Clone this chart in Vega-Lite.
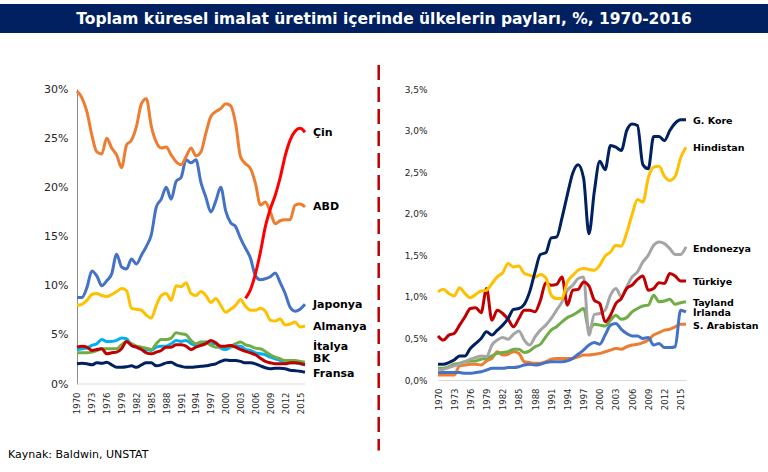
{
  "$schema": "https://vega.github.io/schema/vega-lite/v6.json",
  "background": "white",
  "padding": {"left": 0, "top": 4, "right": 0, "bottom": 0},
  "config": {
    "view": {"stroke": null},
    "font": "DejaVu Sans",
    "axis": {"grid": false, "ticks": false, "title": null, "labelColor": "#262626", "labelFont": "DejaVu Sans", "labelOverlap": false, "tickCount": 30},
    "line": {"strokeWidth": 3, "interpolate": "monotone"},
    "text": {"font": "DejaVu Sans"}
  },
  "title": {"text": "Kaynak: Baldwin, UNSTAT", "orient": "bottom", "anchor": "start", "dx": 8, "offset": -3, "fontSize": 11, "fontWeight": "normal", "color": "#000000", "font": "DejaVu Sans"},
  "datasets": {
    "sol": [
      {"yil": 1970, "ABD": 29.8, "Japonya": 8.8, "Almanya": 8.0, "Cin": null, "Italya": 3.17, "BK": 3.75, "Kanada": 3.51, "Fransa": 2.05},
      {"yil": 1971, "ABD": 29.1, "Japonya": 8.8, "Almanya": 8.1, "Cin": null, "Italya": 3.17, "BK": 3.85, "Kanada": 3.58, "Fransa": 2.1},
      {"yil": 1972, "ABD": 27.7, "Japonya": 9.8, "Almanya": 8.5, "Cin": null, "Italya": 3.17, "BK": 3.75, "Kanada": 3.65, "Fransa": 2.05},
      {"yil": 1973, "ABD": 25.3, "Japonya": 11.5, "Almanya": 9.1, "Cin": null, "Italya": 3.24, "BK": 3.41, "Kanada": 3.92, "Fransa": 1.95},
      {"yil": 1974, "ABD": 23.6, "Japonya": 11.0, "Almanya": 9.2, "Cin": null, "Italya": 3.41, "BK": 3.51, "Kanada": 4.1, "Fransa": 2.15},
      {"yil": 1975, "ABD": 23.4, "Japonya": 10.0, "Almanya": 9.0, "Cin": null, "Italya": 3.58, "BK": 3.58, "Kanada": 4.53, "Fransa": 2.1},
      {"yil": 1976, "ABD": 25.0, "Japonya": 10.5, "Almanya": 8.9, "Cin": null, "Italya": 3.58, "BK": 3.07, "Kanada": 4.33, "Fransa": 2.2},
      {"yil": 1977, "ABD": 24.0, "Japonya": 11.2, "Almanya": 9.1, "Cin": null, "Italya": 3.58, "BK": 3.17, "Kanada": 4.33, "Fransa": 1.95},
      {"yil": 1978, "ABD": 23.3, "Japonya": 13.2, "Almanya": 9.4, "Cin": null, "Italya": 3.58, "BK": 3.24, "Kanada": 4.43, "Fransa": 1.7},
      {"yil": 1979, "ABD": 22.0, "Japonya": 11.9, "Almanya": 9.7, "Cin": null, "Italya": 3.99, "BK": 3.58, "Kanada": 4.67, "Fransa": 1.7},
      {"yil": 1980, "ABD": 24.3, "Japonya": 11.7, "Almanya": 9.5, "Cin": null, "Italya": 4.33, "BK": 4.33, "Kanada": 4.6, "Fransa": 1.75},
      {"yil": 1981, "ABD": 24.8, "Japonya": 12.7, "Almanya": 7.7, "Cin": null, "Italya": 4.1, "BK": 3.92, "Kanada": 3.92, "Fransa": 1.85},
      {"yil": 1982, "ABD": 26.2, "Japonya": 12.2, "Almanya": 7.6, "Cin": null, "Italya": 3.85, "BK": 3.75, "Kanada": 3.75, "Fransa": 1.7},
      {"yil": 1983, "ABD": 28.5, "Japonya": 13.1, "Almanya": 7.5, "Cin": null, "Italya": 3.75, "BK": 3.51, "Kanada": 3.58, "Fransa": 1.95},
      {"yil": 1984, "ABD": 29.0, "Japonya": 14.0, "Almanya": 7.0, "Cin": null, "Italya": 3.65, "BK": 3.17, "Kanada": 3.51, "Fransa": 2.15},
      {"yil": 1985, "ABD": 26.2, "Japonya": 15.2, "Almanya": 6.7, "Cin": null, "Italya": 3.51, "BK": 3.07, "Kanada": 3.41, "Fransa": 2.15},
      {"yil": 1986, "ABD": 24.6, "Japonya": 18.0, "Almanya": 8.0, "Cin": null, "Italya": 4.1, "BK": 3.24, "Kanada": 3.75, "Fransa": 1.85},
      {"yil": 1987, "ABD": 24.0, "Japonya": 18.8, "Almanya": 9.0, "Cin": null, "Italya": 4.53, "BK": 3.41, "Kanada": 3.85, "Fransa": 1.95},
      {"yil": 1988, "ABD": 24.1, "Japonya": 20.0, "Almanya": 9.2, "Cin": null, "Italya": 4.53, "BK": 3.75, "Kanada": 3.85, "Fransa": 2.15},
      {"yil": 1989, "ABD": 23.3, "Japonya": 18.8, "Almanya": 8.5, "Cin": null, "Italya": 4.67, "BK": 3.75, "Kanada": 4.1, "Fransa": 2.2},
      {"yil": 1990, "ABD": 22.6, "Japonya": 20.6, "Almanya": 10.0, "Cin": null, "Italya": 5.21, "BK": 3.99, "Kanada": 4.43, "Fransa": 1.95},
      {"yil": 1991, "ABD": 22.3, "Japonya": 21.0, "Almanya": 9.9, "Cin": null, "Italya": 5.11, "BK": 3.99, "Kanada": 4.33, "Fransa": 1.8},
      {"yil": 1992, "ABD": 23.1, "Japonya": 22.8, "Almanya": 10.3, "Cin": null, "Italya": 5.01, "BK": 3.85, "Kanada": 4.43, "Fransa": 1.7},
      {"yil": 1993, "ABD": 24.0, "Japonya": 22.5, "Almanya": 9.2, "Cin": null, "Italya": 4.43, "BK": 3.51, "Kanada": 4.1, "Fransa": 1.71},
      {"yil": 1994, "ABD": 23.2, "Japonya": 22.8, "Almanya": 9.0, "Cin": null, "Italya": 4.1, "BK": 3.75, "Kanada": 3.92, "Fransa": 1.75},
      {"yil": 1995, "ABD": 23.6, "Japonya": 20.5, "Almanya": 9.4, "Cin": null, "Italya": 4.26, "BK": 3.92, "Kanada": 4.1, "Fransa": 1.8},
      {"yil": 1996, "ABD": 25.5, "Japonya": 19.0, "Almanya": 9.0, "Cin": null, "Italya": 4.26, "BK": 4.1, "Kanada": 4.26, "Fransa": 1.85},
      {"yil": 1997, "ABD": 27.2, "Japonya": 17.5, "Almanya": 8.3, "Cin": null, "Italya": 3.92, "BK": 4.43, "Kanada": 4.1, "Fransa": 1.95},
      {"yil": 1998, "ABD": 27.7, "Japonya": 18.6, "Almanya": 8.7, "Cin": null, "Italya": 3.75, "BK": 4.18, "Kanada": 4.1, "Fransa": 2.05},
      {"yil": 1999, "ABD": 28.0, "Japonya": 20.0, "Almanya": 8.0, "Cin": null, "Italya": 3.75, "BK": 3.85, "Kanada": 3.65, "Fransa": 2.3},
      {"yil": 2000, "ABD": 28.5, "Japonya": 17.6, "Almanya": 7.3, "Cin": null, "Italya": 3.85, "BK": 3.85, "Kanada": 3.51, "Fransa": 2.45},
      {"yil": 2001, "ABD": 28.3, "Japonya": 16.4, "Almanya": 7.6, "Cin": null, "Italya": 3.85, "BK": 3.92, "Kanada": 3.75, "Fransa": 2.4},
      {"yil": 2002, "ABD": 26.5, "Japonya": 16.0, "Almanya": 8.0, "Cin": null, "Italya": 4.1, "BK": 3.75, "Kanada": 3.85, "Fransa": 2.4},
      {"yil": 2003, "ABD": 23.1, "Japonya": 14.8, "Almanya": 8.6, "Cin": null, "Italya": 4.26, "BK": 3.51, "Kanada": 3.85, "Fransa": 2.3},
      {"yil": 2004, "ABD": 22.4, "Japonya": 13.8, "Almanya": 7.9, "Cin": 8.7, "Italya": 3.99, "BK": 3.31, "Kanada": 3.51, "Fransa": 2.15},
      {"yil": 2005, "ABD": 21.9, "Japonya": 12.8, "Almanya": 7.5, "Cin": 9.6, "Italya": 3.85, "BK": 3.17, "Kanada": 3.41, "Fransa": 2.15},
      {"yil": 2006, "ABD": 20.4, "Japonya": 11.0, "Almanya": 7.5, "Cin": 11.2, "Italya": 3.65, "BK": 2.97, "Kanada": 3.17, "Fransa": 2.05},
      {"yil": 2007, "ABD": 18.2, "Japonya": 10.6, "Almanya": 7.7, "Cin": 13.4, "Italya": 3.58, "BK": 2.63, "Kanada": 3.07, "Fransa": 1.85},
      {"yil": 2008, "ABD": 18.5, "Japonya": 10.7, "Almanya": 7.4, "Cin": 16.0, "Italya": 3.31, "BK": 2.29, "Kanada": 2.97, "Fransa": 1.65},
      {"yil": 2009, "ABD": 17.5, "Japonya": 10.9, "Almanya": 6.5, "Cin": 17.8, "Italya": 2.97, "BK": 2.16, "Kanada": 2.73, "Fransa": 1.55},
      {"yil": 2010, "ABD": 16.3, "Japonya": 11.3, "Almanya": 6.4, "Cin": 19.2, "Italya": 2.73, "BK": 2.05, "Kanada": 2.56, "Fransa": 1.6},
      {"yil": 2011, "ABD": 16.6, "Japonya": 10.3, "Almanya": 6.6, "Cin": 21.0, "Italya": 2.56, "BK": 2.05, "Kanada": 2.39, "Fransa": 1.6},
      {"yil": 2012, "ABD": 16.7, "Japonya": 9.2, "Almanya": 6.0, "Cin": 23.2, "Italya": 2.39, "BK": 2.05, "Kanada": 2.16, "Fransa": 1.55},
      {"yil": 2013, "ABD": 16.7, "Japonya": 7.8, "Almanya": 6.1, "Cin": 24.8, "Italya": 2.39, "BK": 2.16, "Kanada": 2.16, "Fransa": 1.4},
      {"yil": 2014, "ABD": 18.2, "Japonya": 7.4, "Almanya": 6.3, "Cin": 25.7, "Italya": 2.39, "BK": 2.16, "Kanada": 2.16, "Fransa": 1.35},
      {"yil": 2015, "ABD": 18.3, "Japonya": 7.6, "Almanya": 5.8, "Cin": 26.0, "Italya": 2.29, "BK": 2.1, "Kanada": 2.05, "Fransa": 1.3},
      {"yil": 2016, "ABD": 18.0, "Japonya": 8.1, "Almanya": 5.9, "Cin": 25.6, "Italya": 2.22, "BK": 1.95, "Kanada": 1.95, "Fransa": 1.2}
    ],
    "sol_etiket": [
      {"etiket": "Çin", "yil": 2016, "pay": 25.5},
      {"etiket": "ABD", "yil": 2016, "pay": 18.0},
      {"etiket": "Japonya", "yil": 2016, "pay": 8.0},
      {"etiket": "Almanya", "yil": 2016, "pay": 5.8},
      {"etiket": "İtalya", "yil": 2016, "pay": 3.8},
      {"etiket": "BK", "yil": 2016, "pay": 2.5},
      {"etiket": "Fransa", "yil": 2016, "pay": 1.0}
    ],
    "sag": [
      {"yil": 1970, "SArabistan": 0.06, "Irlanda": 0.09, "Tayland": 0.14, "Endonezya": 0.12, "Turkiye": 0.53, "Hindistan": 1.06, "GKore": 0.19},
      {"yil": 1971, "SArabistan": 0.06, "Irlanda": 0.09, "Tayland": 0.14, "Endonezya": 0.13, "Turkiye": 0.48, "Hindistan": 1.09, "GKore": 0.19},
      {"yil": 1972, "SArabistan": 0.06, "Irlanda": 0.09, "Tayland": 0.16, "Endonezya": 0.15, "Turkiye": 0.54, "Hindistan": 1.04, "GKore": 0.21},
      {"yil": 1973, "SArabistan": 0.06, "Irlanda": 0.09, "Tayland": 0.19, "Endonezya": 0.17, "Turkiye": 0.56, "Hindistan": 1.01, "GKore": 0.24},
      {"yil": 1974, "SArabistan": 0.17, "Irlanda": 0.09, "Tayland": 0.2, "Endonezya": 0.19, "Turkiye": 0.66, "Hindistan": 1.11, "GKore": 0.29},
      {"yil": 1975, "SArabistan": 0.18, "Irlanda": 0.08, "Tayland": 0.22, "Endonezya": 0.22, "Turkiye": 0.76, "Hindistan": 1.04, "GKore": 0.29},
      {"yil": 1976, "SArabistan": 0.19, "Irlanda": 0.08, "Tayland": 0.23, "Endonezya": 0.25, "Turkiye": 0.86, "Hindistan": 0.99, "GKore": 0.38},
      {"yil": 1977, "SArabistan": 0.19, "Irlanda": 0.09, "Tayland": 0.23, "Endonezya": 0.27, "Turkiye": 0.87, "Hindistan": 1.03, "GKore": 0.44},
      {"yil": 1978, "SArabistan": 0.18, "Irlanda": 0.1, "Tayland": 0.25, "Endonezya": 0.29, "Turkiye": 0.81, "Hindistan": 1.07, "GKore": 0.5},
      {"yil": 1979, "SArabistan": 0.23, "Irlanda": 0.12, "Tayland": 0.26, "Endonezya": 0.28, "Turkiye": 1.1, "Hindistan": 1.08, "GKore": 0.58},
      {"yil": 1980, "SArabistan": 0.26, "Irlanda": 0.14, "Tayland": 0.29, "Endonezya": 0.42, "Turkiye": 0.72, "Hindistan": 1.16, "GKore": 0.54},
      {"yil": 1981, "SArabistan": 0.34, "Irlanda": 0.14, "Tayland": 0.32, "Endonezya": 0.48, "Turkiye": 0.84, "Hindistan": 1.24, "GKore": 0.6},
      {"yil": 1982, "SArabistan": 0.3, "Irlanda": 0.14, "Tayland": 0.33, "Endonezya": 0.51, "Turkiye": 0.8, "Hindistan": 1.29, "GKore": 0.66},
      {"yil": 1983, "SArabistan": 0.31, "Irlanda": 0.15, "Tayland": 0.34, "Endonezya": 0.49, "Turkiye": 0.73, "Hindistan": 1.4, "GKore": 0.74},
      {"yil": 1984, "SArabistan": 0.34, "Irlanda": 0.15, "Tayland": 0.37, "Endonezya": 0.55, "Turkiye": 0.64, "Hindistan": 1.36, "GKore": 0.85},
      {"yil": 1985, "SArabistan": 0.32, "Irlanda": 0.16, "Tayland": 0.37, "Endonezya": 0.59, "Turkiye": 0.74, "Hindistan": 1.37, "GKore": 0.86},
      {"yil": 1986, "SArabistan": 0.22, "Irlanda": 0.18, "Tayland": 0.33, "Endonezya": 0.48, "Turkiye": 0.84, "Hindistan": 1.28, "GKore": 0.91},
      {"yil": 1987, "SArabistan": 0.21, "Irlanda": 0.19, "Tayland": 0.35, "Endonezya": 0.42, "Turkiye": 0.84, "Hindistan": 1.26, "GKore": 1.06},
      {"yil": 1988, "SArabistan": 0.2, "Irlanda": 0.18, "Tayland": 0.4, "Endonezya": 0.52, "Turkiye": 0.82, "Hindistan": 1.24, "GKore": 1.3},
      {"yil": 1989, "SArabistan": 0.2, "Irlanda": 0.19, "Tayland": 0.43, "Endonezya": 0.6, "Turkiye": 0.96, "Hindistan": 1.27, "GKore": 1.51},
      {"yil": 1990, "SArabistan": 0.22, "Irlanda": 0.21, "Tayland": 0.52, "Endonezya": 0.66, "Turkiye": 1.17, "Hindistan": 1.23, "GKore": 1.53},
      {"yil": 1991, "SArabistan": 0.25, "Irlanda": 0.22, "Tayland": 0.6, "Endonezya": 0.74, "Turkiye": 1.14, "Hindistan": 1.02, "GKore": 1.71},
      {"yil": 1992, "SArabistan": 0.26, "Irlanda": 0.22, "Tayland": 0.64, "Endonezya": 0.84, "Turkiye": 1.15, "Hindistan": 0.98, "GKore": 1.72},
      {"yil": 1993, "SArabistan": 0.26, "Irlanda": 0.22, "Tayland": 0.7, "Endonezya": 0.94, "Turkiye": 1.24, "Hindistan": 0.98, "GKore": 1.95},
      {"yil": 1994, "SArabistan": 0.26, "Irlanda": 0.23, "Tayland": 0.75, "Endonezya": 1.08, "Turkiye": 0.9, "Hindistan": 1.18, "GKore": 2.23},
      {"yil": 1995, "SArabistan": 0.26, "Irlanda": 0.26, "Tayland": 0.78, "Endonezya": 1.14, "Turkiye": 1.08, "Hindistan": 1.26, "GKore": 2.49},
      {"yil": 1996, "SArabistan": 0.28, "Irlanda": 0.31, "Tayland": 0.82, "Endonezya": 1.22, "Turkiye": 1.09, "Hindistan": 1.32, "GKore": 2.59},
      {"yil": 1997, "SArabistan": 0.3, "Irlanda": 0.36, "Tayland": 0.86, "Endonezya": 1.24, "Turkiye": 1.18, "Hindistan": 1.34, "GKore": 2.43},
      {"yil": 1998, "SArabistan": 0.3, "Irlanda": 0.42, "Tayland": 0.61, "Endonezya": 0.54, "Turkiye": 1.13, "Hindistan": 1.33, "GKore": 1.76},
      {"yil": 1999, "SArabistan": 0.31, "Irlanda": 0.45, "Tayland": 0.67, "Endonezya": 0.79, "Turkiye": 0.96, "Hindistan": 1.32, "GKore": 2.27},
      {"yil": 2000, "SArabistan": 0.32, "Irlanda": 0.43, "Tayland": 0.66, "Endonezya": 0.8, "Turkiye": 0.92, "Hindistan": 1.38, "GKore": 2.63},
      {"yil": 2001, "SArabistan": 0.34, "Irlanda": 0.54, "Tayland": 0.65, "Endonezya": 0.84, "Turkiye": 0.7, "Hindistan": 1.49, "GKore": 2.53},
      {"yil": 2002, "SArabistan": 0.36, "Irlanda": 0.66, "Tayland": 0.72, "Endonezya": 1.02, "Turkiye": 0.78, "Hindistan": 1.54, "GKore": 2.82},
      {"yil": 2003, "SArabistan": 0.38, "Irlanda": 0.68, "Tayland": 0.78, "Endonezya": 1.1, "Turkiye": 0.92, "Hindistan": 1.62, "GKore": 2.8},
      {"yil": 2004, "SArabistan": 0.37, "Irlanda": 0.61, "Tayland": 0.73, "Endonezya": 1.0, "Turkiye": 0.98, "Hindistan": 1.61, "GKore": 2.76},
      {"yil": 2005, "SArabistan": 0.4, "Irlanda": 0.56, "Tayland": 0.75, "Endonezya": 1.12, "Turkiye": 1.1, "Hindistan": 1.77, "GKore": 3.0},
      {"yil": 2006, "SArabistan": 0.42, "Irlanda": 0.53, "Tayland": 0.82, "Endonezya": 1.24, "Turkiye": 1.14, "Hindistan": 1.99, "GKore": 3.08},
      {"yil": 2007, "SArabistan": 0.43, "Irlanda": 0.53, "Tayland": 0.86, "Endonezya": 1.3, "Turkiye": 1.21, "Hindistan": 2.17, "GKore": 3.06},
      {"yil": 2008, "SArabistan": 0.45, "Irlanda": 0.5, "Tayland": 0.89, "Endonezya": 1.42, "Turkiye": 1.25, "Hindistan": 2.14, "GKore": 2.59},
      {"yil": 2009, "SArabistan": 0.48, "Irlanda": 0.51, "Tayland": 0.9, "Endonezya": 1.5, "Turkiye": 1.08, "Hindistan": 2.43, "GKore": 2.54},
      {"yil": 2010, "SArabistan": 0.54, "Irlanda": 0.42, "Tayland": 1.02, "Endonezya": 1.62, "Turkiye": 1.1, "Hindistan": 2.56, "GKore": 2.93},
      {"yil": 2011, "SArabistan": 0.57, "Irlanda": 0.44, "Tayland": 0.94, "Endonezya": 1.66, "Turkiye": 1.17, "Hindistan": 2.57, "GKore": 2.93},
      {"yil": 2012, "SArabistan": 0.6, "Irlanda": 0.39, "Tayland": 0.95, "Endonezya": 1.64, "Turkiye": 1.16, "Hindistan": 2.45, "GKore": 2.88},
      {"yil": 2013, "SArabistan": 0.61, "Irlanda": 0.39, "Tayland": 0.97, "Endonezya": 1.58, "Turkiye": 1.28, "Hindistan": 2.4, "GKore": 3.0},
      {"yil": 2014, "SArabistan": 0.64, "Irlanda": 0.4, "Tayland": 0.91, "Endonezya": 1.51, "Turkiye": 1.25, "Hindistan": 2.45, "GKore": 3.09},
      {"yil": 2015, "SArabistan": 0.67, "Irlanda": 0.84, "Tayland": 0.93, "Endonezya": 1.51, "Turkiye": 1.19, "Hindistan": 2.67, "GKore": 3.13},
      {"yil": 2016, "SArabistan": 0.67, "Irlanda": 0.82, "Tayland": 0.94, "Endonezya": 1.6, "Turkiye": 1.19, "Hindistan": 2.8, "GKore": 3.13}
    ],
    "sag_etiket": [
      {"etiket": "G. Kore", "yil": 2016, "pay": 3.115},
      {"etiket": "Hindistan", "yil": 2016, "pay": 2.79},
      {"etiket": "Endonezya", "yil": 2016, "pay": 1.574},
      {"etiket": "Türkiye", "yil": 2016, "pay": 1.18},
      {"etiket": "Tayland", "yil": 2016, "pay": 0.929},
      {"etiket": "İrlanda", "yil": 2016, "pay": 0.809},
      {"etiket": "S. Arabistan", "yil": 2016, "pay": 0.652}
    ]
  },
  "spacing": 30,
  "vconcat": [
    {
      "width": 768,
      "height": 29,
      "view": {"fill": "#002060", "stroke": null},
      "data": {"values": [{"baslik": "Toplam küresel imalat üretimi içerinde ülkelerin payları, %, 1970-2016"}]},
      "mark": {"type": "text", "color": "white", "fontWeight": "bold", "fontSize": 15.5},
      "encoding": {"text": {"field": "baslik", "type": "nominal"}}
    },
    {
      "bounds": "flush",
      "spacing": 133,
      "resolve": {"scale": {"color": "independent"}},
      "hconcat": [
        {
          "width": 305,
          "height": 295,
          "layer": [
            {
              "data": {"name": "sol"},
              "transform": [{"fold": ["Fransa", "Kanada", "Italya", "BK", "Almanya", "Japonya", "ABD", "Cin"], "as": ["ulke", "pay"]}],
              "mark": {"type": "line"},
              "encoding": {
                "x": {
                  "field": "yil", "type": "quantitative",
                  "scale": {"domain": [1954.47, 2016], "nice": false, "zero": false},
                  "axis": {"values": [1970, 1973, 1976, 1979, 1982, 1985, 1988, 1991, 1994, 1997, 2000, 2003, 2006, 2009, 2012, 2015], "tickCount": 30, "format": "d", "labelAngle": -90, "labelFontSize": 8.5, "labelPadding": 8, "labelOverlap": false, "labelFlush": false, "domain": false}
                },
                "y": {
                  "field": "pay", "type": "quantitative",
                  "scale": {"domain": [0, 30], "nice": false},
                  "axis": {"values": [0, 5, 10, 15, 20, 25, 30], "tickCount": 30, "labelExpr": "datum.value + '%'", "labelFontSize": 11, "labelPadding": 9, "labelOverlap": false, "domainColor": "#8C8C8C", "offset": -77}
                },
                "color": {
                  "field": "ulke", "type": "nominal", "legend": null,
                  "scale": {"domain": ["Fransa", "Kanada", "Italya", "BK", "Almanya", "Japonya", "ABD", "Cin"], "range": ["#002060", "#00B0F0", "#70AD47", "#C00000", "#FFC000", "#4472C4", "#ED7D31", "#FF0000"]}
                }
              }
            },
            {
              "data": {"values": [{}]},
              "mark": {"type": "rule", "color": "#D9D9D9", "strokeWidth": 1},
              "encoding": {
                "x": {"datum": 1970, "type": "quantitative"},
                "x2": {"datum": 2016},
                "y": {"datum": 0, "type": "quantitative"}
              }
            },
            {
              "data": {"name": "sol_etiket"},
              "mark": {"type": "text", "align": "left", "dx": 8, "fontWeight": "bold", "fontSize": 11, "color": "#000000"},
              "encoding": {
                "x": {"field": "yil", "type": "quantitative"},
                "y": {"field": "pay", "type": "quantitative"},
                "text": {"field": "etiket", "type": "nominal"}
              }
            },
            {
              "data": {"values": [{}]},
              "mark": {"type": "rule", "color": "#C00000", "strokeWidth": 2.5, "strokeDash": [15, 7], "clip": false},
              "encoding": {
                "x": {"datum": 2030.87, "type": "quantitative"},
                "y": {"datum": 32.44, "type": "quantitative"},
                "y2": {"datum": -6.77}
              }
            }
          ]
        },
        {
          "width": 248,
          "height": 291,
          "layer": [
            {
              "data": {"name": "sag"},
              "transform": [{"fold": ["SArabistan", "Irlanda", "Tayland", "Endonezya", "Turkiye", "Hindistan", "GKore"], "as": ["ulke", "pay"]}],
              "mark": {"type": "line"},
              "encoding": {
                "x": {
                  "field": "yil", "type": "quantitative",
                  "scale": {"domain": [1970, 2016], "nice": false, "zero": false},
                  "axis": {"values": [1970, 1973, 1976, 1979, 1982, 1985, 1988, 1991, 1994, 1997, 2000, 2003, 2006, 2009, 2012, 2015], "tickCount": 30, "format": "d", "labelAngle": -90, "labelFontSize": 8.5, "labelPadding": 8, "labelOverlap": false, "labelFlush": false, "domainColor": "#D9D9D9"}
                },
                "y": {
                  "field": "pay", "type": "quantitative",
                  "scale": {"domain": [0, 3.5], "nice": false},
                  "axis": {"values": [0, 0.5, 1, 1.5, 2, 2.5, 3, 3.5], "tickCount": 30, "labelExpr": "replace(format(datum.value, '.1f'), '.', ',') + '%'", "labelFontSize": 9, "labelPadding": 11, "labelOverlap": false, "domain": false}
                },
                "color": {
                  "field": "ulke", "type": "nominal", "legend": null,
                  "scale": {"domain": ["SArabistan", "Irlanda", "Tayland", "Endonezya", "Turkiye", "Hindistan", "GKore"], "range": ["#ED7D31", "#4472C4", "#70AD47", "#A5A5A5", "#C00000", "#FFC000", "#002060"]}
                }
              }
            },
            {
              "data": {"name": "sag_etiket"},
              "mark": {"type": "text", "align": "left", "dx": 7, "fontWeight": "bold", "fontSize": 9.5, "color": "#000000"},
              "encoding": {
                "x": {"field": "yil", "type": "quantitative"},
                "y": {"field": "pay", "type": "quantitative"},
                "text": {"field": "etiket", "type": "nominal"}
              }
            }
          ]
        }
      ]
    }
  ]
}
